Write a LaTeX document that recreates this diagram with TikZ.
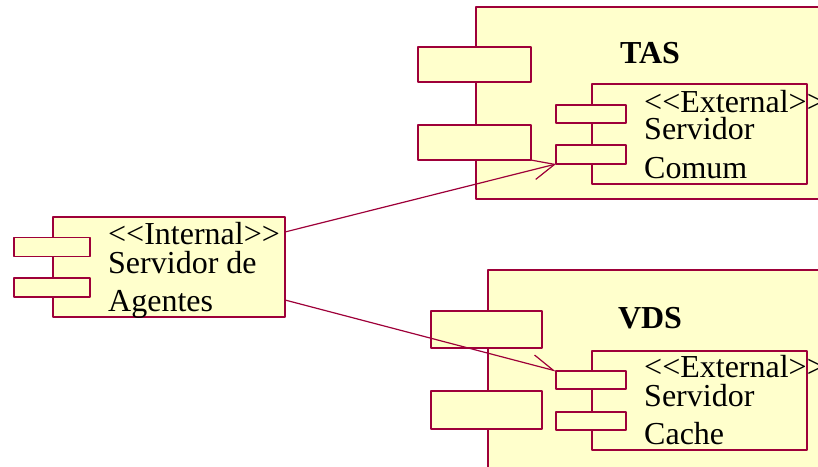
\documentclass[tikz,border=0pt]{standalone}
\usepackage{fontspec}
\newfontfamily\umlfont{Liberation Serif}
\usetikzlibrary{arrows.meta}

\definecolor{umlline}{RGB}{158,0,57}
\definecolor{umlfill}{RGB}{255,255,204}

\begin{document}
\begin{tikzpicture}[x=1pt,y=-1pt,line join=round,
    comp/.style={draw=umlline,fill=umlfill,line width=1.4pt,inner sep=0pt,outer sep=0pt},
    node/.style={comp,line width=2pt},
    tab/.style={comp,line width=1.3pt},
    tag/.style={anchor=base west,inner sep=0pt,font=\umlfont\fontsize{32}{36}\selectfont},
    title/.style={anchor=base,inner sep=0pt,font=\umlfont\bfseries\fontsize{32}{36}\selectfont},
    dep/.style={draw=umlline,line width=1.2pt,-{Straight Barb[length=22pt,width=20pt]}}]
  % Page frame; the two nodes run past the right and lower edges.
  \useasboundingbox (0,0) rectangle (818,466);
  \clip (0,0) rectangle (818,466);

  % Internal component on the left.
  \node[comp,minimum width=232pt,minimum height=100pt] (int) at (169,267) {};
  \node[tab,minimum width=76pt,minimum height=19pt] (int-t1) at (52,247) {};
  \node[tab,minimum width=76pt,minimum height=19pt] (int-t2) at (52,287.5) {};
  \node[tag] (int-l1) at (108,244) {<<Internal>>};
  \node[tag] (int-l2) at (108,273) {Servidor de};
  \node[tag] (int-l3) at (108,311) {Agentes};

  % TAS node with its external component.
  \node[node,minimum width=364pt,minimum height=192pt] (tas) at (658,103) {};
  \node[node,minimum width=113pt,minimum height=35pt] (tas-t1) at (474.5,64.5) {};
  \node[node,minimum width=113pt,minimum height=35pt] (tas-t2) at (474.5,142.5) {};
  \node[title] (tas-name) at (650,63) {TAS};
  \node[comp,minimum width=215pt,minimum height=100pt] (tas-c) at (699.5,134) {};
  \node[tab,minimum width=70pt,minimum height=18pt] (tas-c-t1) at (591,114) {};
  \node[tab,minimum width=70pt,minimum height=19pt] (tas-c-t2) at (591,154.5) {};
  \node[tag] (tas-l1) at (644,112) {<<External>>};
  \node[tag] (tas-l2) at (644,139) {Servidor};
  \node[tag] (tas-l3) at (644,178) {Comum};

  % VDS node with its external component.
  \node[node,minimum width=352pt,minimum height=210pt] (vds) at (664,375) {};
  \node[node,minimum width=111pt,minimum height=37pt] (vds-t1) at (486.5,329.5) {};
  \node[node,minimum width=111pt,minimum height=38pt] (vds-t2) at (486.5,410) {};
  \node[title] (vds-name) at (650,328) {VDS};
  \node[comp,minimum width=215pt,minimum height=99pt] (vds-c) at (699.5,400.5) {};
  \node[tab,minimum width=70pt,minimum height=18pt] (vds-c-t1) at (591,380) {};
  \node[tab,minimum width=70pt,minimum height=18pt] (vds-c-t2) at (591,421) {};
  \node[tag] (vds-l1) at (644,377) {<<External>>};
  \node[tag] (vds-l2) at (644,406) {Servidor};
  \node[tag] (vds-l3) at (644,444) {Cache};

  % Dependencies leave the right side of the internal component.
  \coordinate (int-out1) at (285,232);
  \coordinate (int-out2) at (285,300);
  \draw[dep] (int-out1) -- (tas-c-t2.south west);
  \draw[dep,-{Straight Barb[length=22pt,width=20pt,harpoon]}] (int-out2) -- (vds-c-t1.north west);
\end{tikzpicture}
\end{document}
